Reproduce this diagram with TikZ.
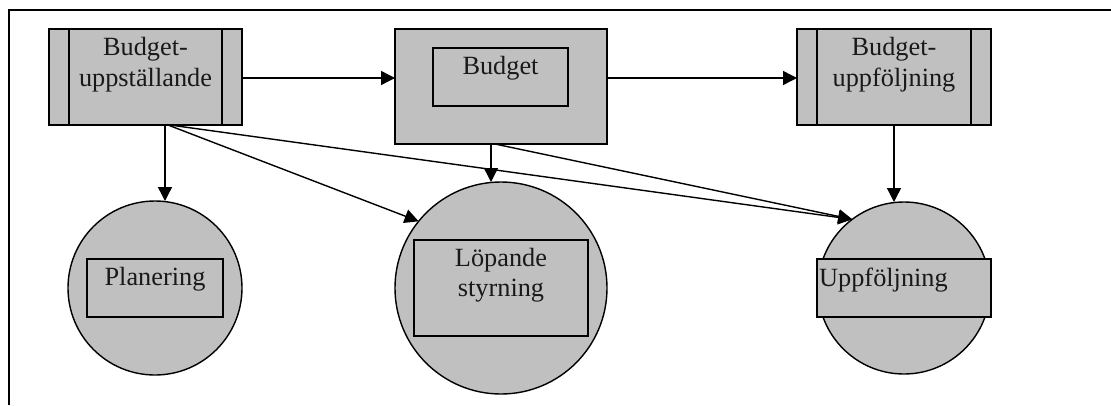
\documentclass[tikz,border=0pt]{standalone}
\usepackage{fontspec}
\setmainfont{Liberation Serif}
\usetikzlibrary{arrows.meta}
\definecolor{boxgray}{RGB}{192,192,192}
\begin{document}
\begin{tikzpicture}[x=1pt,y=-1pt,
  boxshape/.style={draw, fill=boxgray, rectangle, line width=1.4pt, inner sep=0pt, outer sep=0pt},
  bub/.style={draw, fill=boxgray, circle, line width=1.4pt, inner sep=0pt, outer sep=0pt},
  lbl/.style={anchor=base, inner sep=0pt, text=black!90, font=\fontsize{26.3}{31}\selectfont},
  arr/.style={line width=1.4pt, -{Triangle[length=14pt,width=14pt]}},
  thin/.style={line width=1.4pt},
  frameline/.style={line width=2.2pt}]
\useasboundingbox (0,0) rectangle (1111,405);
% frame (only top and left visible)
\coordinate (f0) at (9,10);
\coordinate (f1) at (1111,10);
\coordinate (f2) at (9,405);
\draw[frameline] (f2) -- (f0) -- (f1);

% top boxes
\node[boxshape, minimum width=193pt, minimum height=96pt] (b1) at (145.5,77) {};
\draw[thin] ([xshift=20pt]b1.north west) -- ([xshift=20pt]b1.south west);
\draw[thin] ([xshift=-20pt]b1.north east) -- ([xshift=-20pt]b1.south east);
\node[lbl] (b1t1) at (145.5,55) {Budget-};
\node[lbl] (b1t2) at (145.5,86) {uppställande};

\node[boxshape, minimum width=212pt, minimum height=115pt] (b2) at (501,86.5) {};
\node[boxshape, minimum width=135pt, minimum height=58pt] (b2i) at (500.5,77) {};
\node[lbl] (b2t) at (500.5,74) {Budget};

\node[boxshape, minimum width=194pt, minimum height=96pt] (b3) at (894,77) {};
\draw[thin] ([xshift=20pt]b3.north west) -- ([xshift=20pt]b3.south west);
\draw[thin] ([xshift=-20pt]b3.north east) -- ([xshift=-20pt]b3.south east);
\node[lbl] (b3t1) at (894,55) {Budget-};
\node[lbl] (b3t2) at (894,86) {uppföljning};

% circles
\node[bub, minimum size=174pt] (c1) at (155,288) {};
\node[boxshape, minimum width=136pt, minimum height=58pt] (c1i) at (155,288) {};
\node[lbl] (c1t) at (155,285) {Planering};

\node[bub, minimum size=212pt] (c2) at (501,288) {};
\node[boxshape, minimum width=174pt, minimum height=96pt] (c2i) at (501,288) {};
\node[lbl] (c2t1) at (501,266) {Löpande};
\node[lbl] (c2t2) at (501,296.5) {styrning};

\node[bub, minimum size=172pt] (c3) at (904,288) {};
\node[boxshape, minimum width=174pt, minimum height=58pt] (c3i) at (904,288) {};
\node[lbl, anchor=base west] (c3t) at (819,286) {Uppföljning};

% connectors
\draw[arr] (b1.east |- 0,78) -- (b2.west |- 0,78);
\draw[arr] (b2.east |- 0,78) -- (b3.west |- 0,78);
\draw[arr] (b3.south) -- (b3.south |- c3.north);
\draw[arr] ([xshift=19.5pt]b1.south) -- ([xshift=19.5pt]b1.south |- c1.north);
\draw[arr] ([xshift=22.5pt]b1.south) -- (c2.141);
\draw[arr] ([xshift=24.5pt]b1.south) -- (c3.127.8);
\draw[arr] ([xshift=-10pt]b2.south) -- ([xshift=-10pt]b2.south |- c2.north);
\draw[arr] ([xshift=-6pt]b2.south) -- (c3.127.8);
\end{tikzpicture}
\end{document}
